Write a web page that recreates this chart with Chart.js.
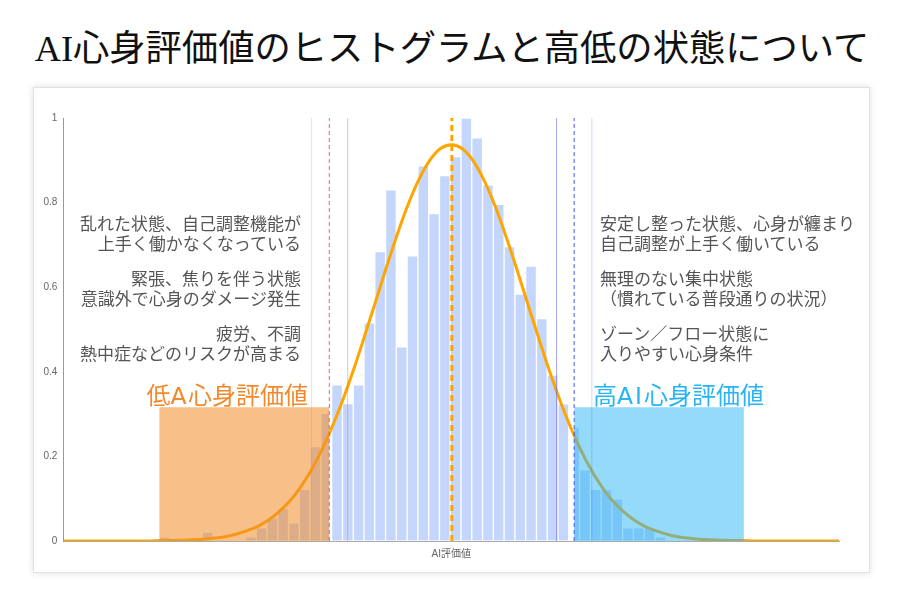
<!DOCTYPE html>
<html><head><meta charset="utf-8">
<script src="https://cdn.jsdelivr.net/npm/chart.js@4.4.1/dist/chart.umd.min.js"></script>
<style>
html,body{margin:0;padding:0;background:#fff;width:900px;height:600px;overflow:hidden;font-family:"Noto Sans CJK JP",sans-serif;}
#title{position:absolute;left:2px;top:27px;width:900px;text-align:center;font-size:36.3px;line-height:44px;color:#111;font-family:"Liberation Serif","Noto Sans CJK JP",serif;white-space:nowrap;}
#card{position:absolute;left:33px;top:87px;width:837px;height:486px;background:#fff;border:1px solid #e2e2e2;box-shadow:0 0 7px rgba(0,0,0,0.13);box-sizing:border-box;}
#wrap{position:absolute;left:33px;top:87px;width:837px;height:486px;}
.note{position:absolute;font-size:17px;line-height:20px;color:#555;white-space:nowrap;}
.nl{right:599px;text-align:right;}
.nr{left:600px;text-align:left;}
.big{position:absolute;font-size:24px;line-height:30px;white-space:nowrap;}
.lat{font-family:"DejaVu Sans",sans-serif;font-size:23.5px;}
.wa{letter-spacing:1.5px;}
.wi{letter-spacing:2px;}
</style></head>
<body>
<div id="title">AI心身評価値のヒストグラムと高低の状態について</div>
<div id="card"></div>
<div id="wrap"><canvas id="c" width="837" height="486"></canvas></div>
<div class="note nl" style="top:213px">乱れた状態、自己調整機能が<br>上手く働かなくなっている</div>
<div class="note nl" style="top:268px">緊張、焦りを伴う状態<br>意識外で心身のダメージ発生</div>
<div class="note nl" style="top:323px">疲労、不調<br>熱中症などのリスクが高まる</div>
<div class="note nr" style="top:213px">安定し整った状態、心身が纏まり<br>自己調整が上手く働いている</div>
<div class="note nr" style="top:268px">無理のない集中状態<br>（慣れている普段通りの状況）</div>
<div class="note nr" style="top:323px">ゾーン／フロー状態に<br>入りやすい心身条件</div>
<div class="big" style="right:592px;top:379px;color:#f08a2c;">低<span class="lat wa">A</span>心身評価値</div>
<div class="big" style="left:593px;top:379px;color:#29b4f4;">高<span class="lat wi">AI</span>心身評価値</div>
<script>
// histogram bins (centers on AI評価値 axis) and normalized heights
const lowCenters  = [9.4,10.4,11.4,12.4,13.4,14.4,15.4,16.4,17.4,18.4,19.4,20.4,21.4,22.4,23.4,24.4];
const lowValues   = [0.010,0,0,0,0.021,0,0,0,0.010,0.031,0.055,0.077,0.043,0.122,0.223,0.302];
const midCenters  = [25.4,26.4,27.4,28.4,29.4,30.4,31.4,32.4,33.4,34.4,35.4,36.4,37.4,38.4,39.4,40.4,41.4,42.4,43.4,44.4,45.4,46.4];
const midValues   = [0.369,0.325,0.369,0.516,0.684,0.830,0.459,0.674,0.887,0.774,0.864,0.909,1.000,0.953,0.842,0.796,0.696,0.584,0.650,0.526,0.392,0.324];
const highCenters = [47.4,48.4,49.4,50.4,51.4,52.4,53.4,54.4,55.4];
const highValues  = [0.269,0.168,0.122,0.122,0.099,0.031,0.031,0.031,0.010];

// fitted distribution curve
const curveX = [0,1,2,3,4,5,6,7,8,9,10,11,12,13,14,15,16,17,18,19,20,21,22,23,24,25,26,27,28,29,30,31,32,33,34,35,36,37,38,39,40,41,42,43,44,45,46,47,48,49,50,51,52,53,54,55,56,57,58,59,60,61,62,63,64,65,66,67,68,69,70,71,72];
const curveY = [0,0,0,0,0,0,0,0,0,0.001,0.001,0.002,0.003,0.004,0.007,0.010,0.016,0.024,0.034,0.049,0.069,0.094,0.127,0.167,0.216,0.273,0.338,0.410,0.488,0.568,0.649,0.726,0.796,0.855,0.900,0.928,0.937,0.928,0.900,0.855,0.796,0.726,0.649,0.568,0.488,0.410,0.338,0.273,0.216,0.167,0.127,0.094,0.069,0.049,0.034,0.024,0.016,0.010,0.007,0.004,0.003,0.002,0.001,0.001,0,0,0,0,0,0,0,0,0];

// reference lines on the axis
const meanValue = 36.05;
const lowThreshold = 24.68;
const highThreshold = 47.40;
const lowBand = [23.04, 26.38];
const highBand = [45.77, 49.04];

// highlighted ranges
const lowRange = [8.9, 24.68];
const highRange = [47.40, 63.15];
const rangeHeight = 0.316;

const yTicks = [0, 0.2, 0.4, 0.6, 0.8, 1];
const yTickLabels = ['0', '0.2', '0.4', '0.6', '0.8', '1'];
const xTitle = 'AI評価値';

function pts(xs, ys){ return xs.map((x,i)=>({x:x, y:ys[i]})); }
function vline(v, color, width, dash){
  return {type:'line', data:[{x:v,y:0},{x:v,y:1}], borderColor:color, borderWidth:width, borderDash:dash||[], pointRadius:0, fill:false, order:0};
}
function rect(r, color){
  return {type:'line', data:[{x:r[0],y:rangeHeight},{x:r[1],y:rangeHeight}], borderColor:'transparent', borderWidth:0, backgroundColor:color, fill:'origin', pointRadius:0, order:1};
}
const barStyle = {type:'bar', grouped:false, barPercentage:1, categoryPercentage:1, backgroundColor:'#c4d6fb', borderColor:'rgba(255,255,255,0.55)', borderWidth:1, order:3};

const clipPlugin = {
  id:'rangeClip',
  beforeDatasetDraw(chart, args){
    const ds = chart.data.datasets[args.index];
    if(!ds.clipRange) return;
    const xs = chart.scales.x, ca = chart.chartArea, ctx = chart.ctx;
    const a = xs.getPixelForValue(ds.clipRange[0]), b = xs.getPixelForValue(ds.clipRange[1]);
    ctx.save(); ctx.beginPath(); ctx.rect(a, ca.top, b-a, ca.bottom-ca.top); ctx.clip();
  },
  afterDatasetDraw(chart, args){
    if(chart.data.datasets[args.index].clipRange) chart.ctx.restore();
  }
};

Chart.defaults.font.family = '"Liberation Sans","Noto Sans CJK JP",sans-serif';

new Chart(document.getElementById('c'), {
  type:'bar',
  data:{datasets:[
    Object.assign({data:pts(lowCenters, lowValues), clipRange:[0, lowThreshold]}, barStyle),
    Object.assign({data:pts(midCenters, midValues)}, barStyle),
    Object.assign({data:pts(highCenters, highValues), clipRange:[highThreshold, 72]}, barStyle),
    {type:'line', data:pts(curveX, curveY), borderColor:'#ffa500', borderWidth:3, pointRadius:0, fill:false, cubicInterpolationMode:'monotone', order:2},
    rect(lowRange, 'rgba(240,140,40,0.55)'),
    rect(highRange, 'rgba(41,182,246,0.5)'),
    vline(lowBand[0], 'rgba(245,120,130,0.3)', 1),
    vline(lowThreshold, 'rgba(240,80,95,0.9)', 1, [4,3]),
    vline(lowBand[1], 'rgba(235,110,120,0.45)', 1),
    vline(meanValue, '#ffa500', 3, [6,4]),
    vline(highBand[0], 'rgba(90,90,230,0.55)', 1),
    vline(highThreshold, 'rgba(60,70,230,0.9)', 1, [4,3]),
    vline(highBand[1], 'rgba(90,90,230,0.25)', 1)
  ]},
  options:{
    responsive:false, animation:false,
    layout:{padding:{left:0, top:31, right:30.7, bottom:9}},
    plugins:{legend:{display:false}, tooltip:{enabled:false}},
    scales:{
      x:{type:'linear', min:0, max:72, offset:false,
         ticks:{display:false},
         grid:{color:'transparent', drawTicks:false},
         border:{color:'#aaa'},
         title:{display:true, text:xTitle, color:'#666', font:{size:10}, padding:{top:4,bottom:4}},
         afterFit(s){ s.height = 23; }},
      y:{min:0, max:1,
         afterBuildTicks(s){ s.ticks = yTicks.map(v=>({value:v})); },
         ticks:{color:'#666', font:{size:10}, padding:6,
                callback:(v,i)=>yTickLabels[yTicks.indexOf(v)] ?? String(v)},
         grid:{color:'transparent', drawTicks:false},
         border:{color:'#999'},
         afterFit(s){ s.width = 30.3; }}
    }
  },
  plugins:[clipPlugin]
});
</script>
</body></html>
